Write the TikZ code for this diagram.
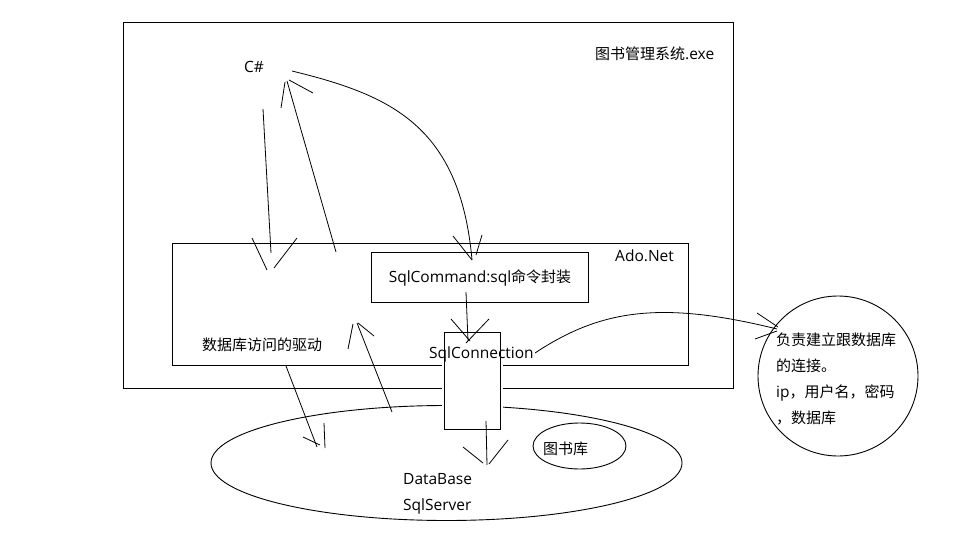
\documentclass[tikz,border=0pt]{standalone}
\usepackage{fontspec}
\setmainfont{Open Sans}
\newfontfamily\cjk{Noto Sans CJK SC}[Scale=0.968]
\usetikzlibrary{shapes.geometric}
\begin{document}
\begin{tikzpicture}[x=1pt,y=-1pt,
  every node/.style={inner sep=0pt, font=\fontsize{15.5}{18}\selectfont},
  box/.style={draw, line width=1pt, anchor=north west},
  oval/.style={draw, ellipse, line width=0.9pt},
  stroke/.style={line width=0.8pt},
  lbl/.style={anchor=west},
  blbl/.style={anchor=base west}]
  \useasboundingbox (0,0) rectangle (953,553);
  \fill[white] (0,0) rectangle (953,553);

  % frames
  \node[box, minimum width=610pt, minimum height=366pt] (exe) at (123,22) {};
  \node[box, minimum width=516pt, minimum height=122pt] (ado) at (172,243) {};
  \node[box, minimum width=217pt, minimum height=50pt] (cmd) at (371,252) {SqlCommand:sql{\cjk 命令封装}};
  \node[oval, minimum width=471pt, minimum height=115pt] (db) at (446.5,463) {};
  \node[oval, minimum width=93pt, minimum height=46pt] (lib) at (579.5,446) {};
  \node[oval, circle, minimum size=160pt] (note) at (838,376) {};

  % labels
  \node[blbl] (cs) at (244,72.5) {C\#};
  \node[blbl] (exetitle) at (595,60) {{\cjk 图书管理系统}.exe};
  \node[blbl] (adolbl) at (615,262) {Ado.Net};
  \node[lbl] (drive) at (202,345) {\cjk 数据库访问的驱动};
  \node[blbl] (dblbl) at (403,484) {DataBase};
  \node[blbl] (srvlbl) at (403,510) {SqlServer};
  \node[lbl] (liblbl) at (543,449) {\cjk 图书库};
  \node[lbl] (n1) at (776,340) {\cjk 负责建立跟数据库};
  \node[lbl] (n2) at (776,366) {\cjk 的连接。};
  \node[blbl] (n3) at (776,397) {ip{\cjk ，用户名，密码}};
  \node[lbl] (n4) at (776,417.5) {\cjk ，数据库};

  % C# down arrow
  \coordinate (a1s) at (263,109); \coordinate (a1e) at (271,253);
  \draw[stroke] (a1s) -- (a1e);
  \draw[stroke] (252,238) -- (267,270);
  \draw[stroke] (297,238) -- (274,268);
  % C# up arrow
  \coordinate (a2s) at (336,252); \coordinate (a2e) at (287,81);
  \draw[stroke] (a2s) -- (a2e);
  \draw[stroke] (285,82) -- (281,108);
  \draw[stroke] (289,80) -- (313,93);
  % C# to SqlCommand curve
  \coordinate (c1s) at (292,71); \coordinate (c1e) at (472,260);
  \draw[stroke] (c1s) .. controls (390,95) and (460,125) .. (c1e);
  \draw[stroke] (453,236) -- (472,260);
  \draw[stroke] (482,235) -- (476,255);
  % driver arrows
  \coordinate (d1s) at (286,366); \coordinate (d1e) at (317,447);
  \draw[stroke] (d1s) -- (d1e);
  \draw[stroke] (303,437) -- (320,445);
  \draw[stroke] (324,423) -- (325,448);
  \coordinate (d2s) at (392,412); \coordinate (d2e) at (357,323);
  \draw[stroke] (d2s) -- (d2e);
  \draw[stroke] (353,324) -- (348,349);
  \draw[stroke] (358,323) -- (374,336);

  % SqlConnection box with gap
  \fill[white] (441.5,329.5) rectangle (502.5,431.5);
  \node[box, minimum width=56pt, minimum height=97pt] (conn) at (444,332) {};
  \node[blbl] (connlbl) at (429,358) {SqlConnection};

  % SqlCommand -> SqlConnection
  \coordinate (b1s) at (466,292); \coordinate (b1e) at (468,341);
  \draw[stroke] (b1s) -- (b1e);
  \draw[stroke] (451,319) -- (470,341);
  \draw[stroke] (489,319) -- (466,343);
  % SqlConnection -> DataBase
  \coordinate (b2s) at (486,421); \coordinate (b2e) at (487,465);
  \draw[stroke] (b2s) -- (b2e);
  \draw[stroke] (463,447) -- (483,463);
  \draw[stroke] (508,440) -- (489,464);
  % SqlConnection -> note
  \coordinate (c2s) at (535,353); \coordinate (c2e) at (777,329);
  \draw[stroke] (c2s) .. controls (600,310) and (660,300) .. (c2e);
  \draw[stroke] (757,313) -- (778,327);
  \draw[stroke] (755,339) -- (777,331);
\end{tikzpicture}
\end{document}
